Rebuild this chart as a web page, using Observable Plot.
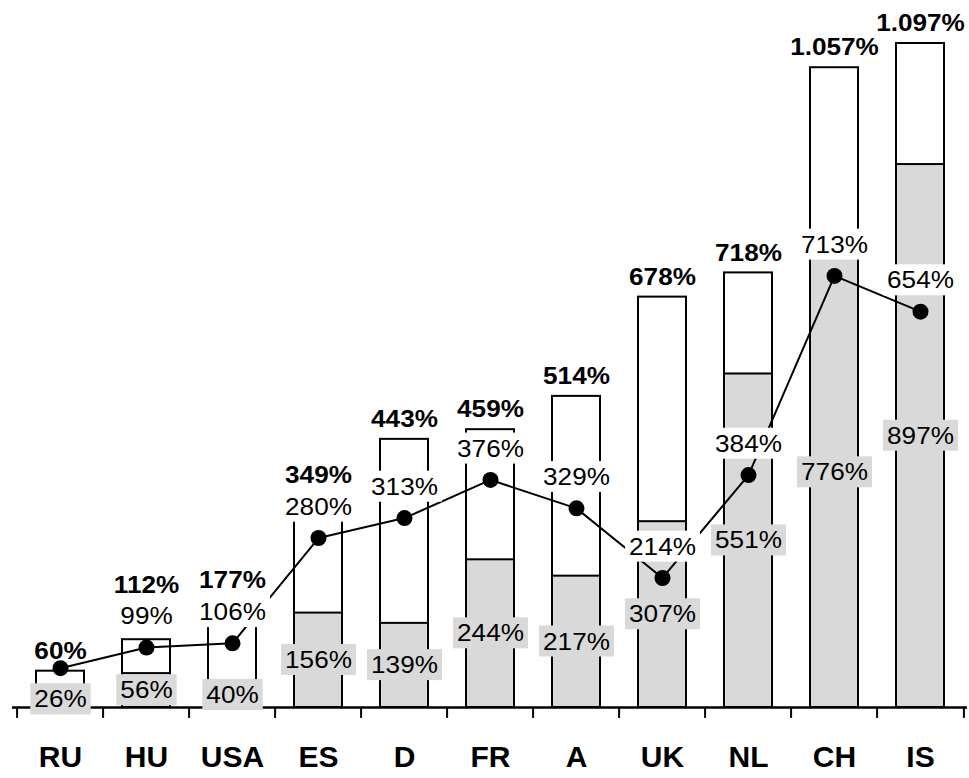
<!DOCTYPE html>
<html>
<head>
<meta charset="utf-8">
<script src="https://cdn.jsdelivr.net/npm/d3@7"></script>
<script src="https://cdn.jsdelivr.net/npm/@observablehq/plot@0.6"></script>
<style>
  html, body { margin: 0; padding: 0; background: #fff; }
  #chart svg { display: block; font-family: "Liberation Sans", Arial, sans-serif; }
  #chart svg text { font-family: "Liberation Sans", Arial, sans-serif; }
</style>
</head>
<body>
<div id="chart"></div>
<script>
// ---- data ----
const countries = ["RU", "HU", "USA", "ES", "D", "FR", "A", "UK", "NL", "CH", "IS"];
const totals    = [60, 112, 177, 349, 443, 459, 514, 678, 718, 1057, 1097];
const grayVals  = [26, 56, 40, 156, 139, 244, 217, 307, 551, 776, 897];
const lineVals  = [65, 99, 106, 280, 313, 376, 329, 214, 384, 713, 654];
const lineLabeled = [false, true, true, true, true, true, true, true, true, true, true];

const fmt = d3.formatLocale({decimal: ",", thousands: ".", grouping: [3], currency: ["", "€"]}).format(",");
const pct = v => fmt(v) + "%";

const data = countries.map((c, i) => ({
  country: c,
  total: totals[i],
  gray: grayVals[i],
  line: lineVals[i],
  labeled: lineLabeled[i],
  boldY: lineLabeled[i] ? Math.max(totals[i], lineVals[i] + 70) : totals[i]
}));

const W = 969, H = 778;
const mL = 12, mR = 2;
const step = (W - mL - mR) / countries.length;
const GRAY = "#d9d9d9";

const chart = Plot.plot({
  width: W,
  height: H,
  marginTop: 43,
  marginBottom: 71,
  marginLeft: mL,
  marginRight: mR,
  x: {domain: countries, paddingInner: 0.447, paddingOuter: 0.2235, axis: null},
  y: {domain: [0, 1097], axis: null},
  marks: [
    Plot.barY(data, {x: "country", y: "total", fill: "white", stroke: "black", strokeWidth: 2}),
    Plot.barY(data, {x: "country", y: "gray", fill: GRAY, stroke: "black", strokeWidth: 2}),
    Plot.ruleY([0], {stroke: "black", strokeWidth: 2.5}),
    Plot.ruleX(data, {x: "country", y1: 0, y2: -18, dx: -step / 2, stroke: "black", strokeWidth: 2}),
    Plot.ruleX(data.slice(-1), {x: "country", y1: 0, y2: -18, dx: step / 2, stroke: "black", strokeWidth: 2}),
    Plot.line(data, {x: "country", y: "line", stroke: "black", strokeWidth: 2}),
    Plot.dot(data, {x: "country", y: "line", r: 8, fill: "black", stroke: "none"}),
    Plot.text(data, {x: "country", y: d => d.gray / 2, text: d => pct(d.gray), fontSize: 24, fill: "black", className: "lbl-gray"}),
    Plot.text(data.filter(d => d.labeled), {x: "country", y: "line", dy: -31, text: d => pct(d.line), fontSize: 24, fill: "black", className: "lbl-white"}),
    Plot.text(data, {x: "country", y: "boldY", dy: -20, text: d => pct(d.total), fontSize: 24, fontWeight: "bold", fill: "black", className: "lbl-bold"}),
    Plot.text(data, {x: "country", y: 0, dy: 49.5, text: "country", fontSize: 30, fontWeight: "bold", fill: "black"})
  ]
});

document.getElementById("chart").appendChild(chart);

// widen value labels slightly (as in the reference) and add their background boxes
const SX = 1.09;
function style(cls, color) {
  chart.querySelectorAll("g." + cls + " text").forEach(t => {
    const b = t.getBBox();
    const tr = t.getAttribute("transform") || "";
    const xAttr = +(t.getAttribute("x") || 0);
    const cx = b.x + b.width / 2;
    t.setAttribute("transform", `${tr} translate(${cx},0) scale(${SX},1) translate(${-cx},0)`);
    if (!color) return;
    const w = b.width * SX;
    const r = document.createElementNS("http://www.w3.org/2000/svg", "rect");
    r.setAttribute("x", cx - w / 2 - 4);
    r.setAttribute("y", b.y - 2);
    r.setAttribute("width", w + 8);
    r.setAttribute("height", b.height + 4);
    r.setAttribute("fill", color);
    if (tr) r.setAttribute("transform", tr);
    t.parentNode.insertBefore(r, t);
  });
}
style("lbl-gray", GRAY);
style("lbl-white", "white");
style("lbl-bold", null);
</script>
</body>
</html>
